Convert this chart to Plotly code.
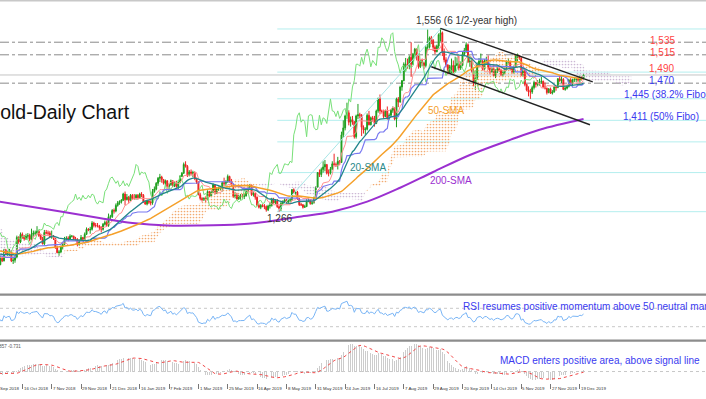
import numpy as np
import pandas as pd
import plotly.graph_objects as go

# ---------------- data (XAU/USD daily) ----------------
# warm-up closes (4 Jun 2018 - 21 Sep 2018), used only to seed indicators
warmup_close = [
    1292, 1297, 1298, 1298, 1298, 1299, 1294, 1299, 1302, 1278,
    1279, 1275, 1270, 1268, 1270, 1266, 1258, 1252, 1248, 1251,
    1242, 1253, 1253, 1257, 1255, 1258, 1255, 1245, 1246, 1241,
    1239, 1227, 1224, 1223, 1231, 1224, 1226, 1231, 1223, 1222,
    1222, 1223, 1217, 1213, 1214, 1208, 1211, 1212, 1212, 1211,
    1193, 1192, 1174, 1178, 1184, 1191, 1198, 1196, 1186, 1206,
    1212, 1210, 1201, 1201, 1201, 1199, 1196, 1199, 1200, 1196,
    1194, 1195, 1205, 1207, 1193, 1198, 1199, 1204, 1207, 1199,
]

# visible bars: 24 Sep 2018 ... 23 Dec 2019
close = [
    1199, 1200, 1194, 1182, 1192, 1188, 1205, 1198, 1202, 1203,
    1188, 1189, 1194, 1225, 1218, 1230, 1226, 1223, 1227, 1228,
    1222, 1230, 1232, 1232, 1235, 1228, 1223, 1215, 1233, 1232,
    1232, 1226, 1227, 1224, 1209, 1201, 1202, 1210, 1214, 1222,
    1224, 1222, 1227, 1227, 1223, 1222, 1214, 1220, 1225, 1222,
    1230, 1238, 1237, 1238, 1248, 1244, 1244, 1243, 1241, 1238,
    1246, 1249, 1244, 1258, 1258, 1268, 1267, 1276, 1280, 1282,
    1284, 1294, 1285,
    1289, 1284, 1292, 1287, 1287, 1292, 1288, 1294, 1292, 1282,
    1278, 1283, 1281, 1280, 1298, 1302, 1311, 1319, 1321, 1317,
    1311, 1315, 1306, 1309, 1315, 1307, 1311, 1306, 1313, 1322,
    1327, 1341, 1338, 1324, 1329, 1327, 1328, 1319, 1313, 1293,
    1287, 1285, 1287, 1286, 1298, 1291, 1297, 1309, 1295, 1302,
    1302, 1306, 1312, 1311, 1313, 1322, 1314, 1309, 1290, 1292,
    1286, 1291, 1291, 1290, 1291, 1298, 1304, 1308, 1293, 1295,
    1289, 1276, 1273, 1276, 1275, 1274, 1269, 1275, 1276, 1286,
    1280, 1283, 1274, 1271, 1279, 1282, 1285, 1281, 1284, 1285,
    1301, 1296, 1297, 1286, 1277, 1277, 1273, 1274, 1283, 1284,
    1279, 1280, 1288, 1305,
    1328, 1325, 1333, 1337, 1341, 1327, 1327, 1334, 1342, 1341,
    1340, 1346, 1344, 1388, 1399, 1418, 1423, 1408, 1412, 1409,
    1385, 1418, 1420, 1419, 1400, 1396, 1397, 1419, 1404, 1415,
    1413, 1406, 1426, 1445, 1426, 1425, 1417, 1426, 1414, 1419,
    1427, 1430, 1413, 1445, 1440, 1464, 1474, 1500, 1500, 1497,
    1511, 1500, 1516, 1524, 1513, 1496, 1506, 1502, 1498, 1527,
    1527, 1542, 1538, 1527, 1520, 1529, 1547, 1550, 1520, 1507,
    1499, 1486, 1496, 1498, 1488, 1498, 1501, 1494, 1498, 1516,
    1522, 1531, 1504, 1505, 1490, 1472, 1478, 1499, 1505, 1505,
    1492, 1505, 1506, 1494, 1488, 1493, 1482, 1490, 1493, 1490,
    1484, 1487, 1492, 1504, 1504, 1493, 1488, 1495, 1513, 1514,
    1510, 1484, 1490, 1468, 1459, 1456, 1456, 1463, 1471, 1468,
    1471, 1472, 1473, 1464, 1462, 1455, 1461, 1454, 1456, 1464,
    1463, 1477, 1474, 1476, 1460, 1462, 1465, 1475, 1469, 1476,
    1476, 1476, 1475, 1479, 1478, 1483,
]
high = [
    1204, 1204, 1204, 1195, 1196, 1195, 1207, 1207, 1205, 1207,
    1205, 1193, 1196, 1228, 1227, 1233, 1233, 1229, 1231, 1232,
    1231, 1239, 1236, 1236, 1243, 1237, 1230, 1226, 1237, 1237,
    1236, 1235, 1236, 1229, 1224, 1212, 1205, 1212, 1216, 1226,
    1227, 1227, 1230, 1229, 1228, 1226, 1224, 1222, 1229, 1226,
    1233, 1241, 1240, 1242, 1251, 1250, 1248, 1248, 1245, 1243,
    1248, 1252, 1252, 1263, 1261, 1270, 1271, 1279, 1283, 1284,
    1286, 1296, 1298,
    1294, 1291, 1294, 1294, 1294, 1294, 1294, 1296, 1297, 1294,
    1284, 1285, 1284, 1284, 1302, 1306, 1313, 1321, 1326, 1323,
    1318, 1317, 1316, 1311, 1317, 1316, 1314, 1315, 1316, 1324,
    1329, 1344, 1346, 1340, 1332, 1333, 1331, 1330, 1320, 1314,
    1296, 1289, 1289, 1290, 1300, 1299, 1299, 1311, 1310, 1305,
    1306, 1307, 1314, 1320, 1316, 1325, 1323, 1318, 1310, 1297,
    1296, 1293, 1294, 1294, 1295, 1300, 1306, 1310, 1309, 1298,
    1296, 1290, 1279, 1278, 1278, 1278, 1276, 1277, 1281, 1288,
    1288, 1286, 1286, 1276, 1282, 1284, 1287, 1286, 1287, 1288,
    1302, 1303, 1299, 1299, 1288, 1280, 1278, 1277, 1286, 1287,
    1286, 1283, 1290, 1306,
    1329, 1333, 1336, 1346, 1348, 1341, 1333, 1337, 1346, 1358,
    1344, 1353, 1348, 1393, 1411, 1420, 1439, 1427, 1417, 1418,
    1402, 1420, 1437, 1423, 1421, 1403, 1400, 1422, 1426, 1417,
    1418, 1418, 1428, 1447, 1452, 1428, 1428, 1428, 1433, 1422,
    1429, 1433, 1432, 1447, 1448, 1466, 1475, 1503, 1510, 1509,
    1514, 1535, 1518, 1526, 1525, 1512, 1507, 1509, 1504, 1530,
    1555, 1544, 1545, 1540, 1530, 1531, 1549, 1557, 1552, 1525,
    1511, 1500, 1499, 1509, 1506, 1512, 1511, 1513, 1504, 1520,
    1526, 1535, 1533, 1513, 1510, 1493, 1483, 1503, 1510, 1517,
    1507, 1508, 1512, 1514, 1500, 1496, 1499, 1492, 1497, 1497,
    1493, 1489, 1495, 1506, 1510, 1506, 1496, 1498, 1515, 1517,
    1514, 1511, 1493, 1494, 1469, 1465, 1461, 1466, 1474, 1472,
    1475, 1477, 1480, 1474, 1471, 1463, 1462, 1463, 1459, 1466,
    1465, 1478, 1482, 1481, 1478, 1465, 1466, 1477, 1478, 1477,
    1480, 1479, 1480, 1482, 1481, 1485,
]
low = [
    1194, 1195, 1191, 1180, 1181, 1186, 1187, 1197, 1196, 1196,
    1186, 1183, 1185, 1192, 1215, 1216, 1223, 1220, 1221, 1223,
    1219, 1221, 1226, 1228, 1230, 1226, 1221, 1214, 1213, 1230,
    1228, 1225, 1223, 1221, 1207, 1200, 1196, 1200, 1206, 1213,
    1220, 1219, 1221, 1225, 1221, 1220, 1211, 1212, 1219, 1219,
    1221, 1229, 1235, 1231, 1236, 1241, 1241, 1241, 1237, 1233,
    1236, 1244, 1242, 1242, 1254, 1256, 1263, 1265, 1274, 1277,
    1279, 1283, 1276,
    1284, 1279, 1283, 1285, 1285, 1285, 1285, 1287, 1289, 1280,
    1277, 1276, 1278, 1276, 1277, 1296, 1300, 1307, 1313, 1312,
    1309, 1308, 1304, 1302, 1307, 1305, 1305, 1304, 1302, 1311,
    1321, 1326, 1336, 1321, 1322, 1324, 1321, 1316, 1310, 1292,
    1284, 1282, 1283, 1281, 1284, 1289, 1289, 1296, 1293, 1294,
    1299, 1300, 1298, 1307, 1307, 1312, 1312, 1307, 1288, 1287,
    1285, 1285, 1285, 1287, 1286, 1290, 1296, 1302, 1291, 1290,
    1285, 1276, 1271, 1270, 1273, 1270, 1266, 1267, 1271, 1274,
    1279, 1278, 1272, 1266, 1267, 1276, 1279, 1279, 1279, 1281,
    1283, 1294, 1293, 1285, 1275, 1275, 1271, 1272, 1274, 1281,
    1277, 1277, 1279, 1288,
    1304, 1321, 1321, 1328, 1330, 1325, 1322, 1325, 1332, 1338,
    1337, 1333, 1340, 1344, 1383, 1395, 1414, 1403, 1401, 1404,
    1382, 1382, 1413, 1414, 1386, 1390, 1388, 1395, 1403, 1403,
    1409, 1401, 1405, 1423, 1421, 1422, 1414, 1416, 1412, 1412,
    1417, 1423, 1411, 1400, 1432, 1439, 1458, 1473, 1489, 1493,
    1492, 1480, 1499, 1509, 1506, 1493, 1494, 1497, 1492, 1495,
    1521, 1525, 1532, 1521, 1516, 1519, 1525, 1536, 1513, 1503,
    1495, 1484, 1485, 1486, 1486, 1492, 1497, 1490, 1491, 1497,
    1513, 1518, 1502, 1496, 1487, 1465, 1459, 1475, 1495, 1501,
    1490, 1490, 1501, 1491, 1484, 1487, 1480, 1478, 1486, 1488,
    1481, 1480, 1484, 1490, 1501, 1490, 1485, 1485, 1494, 1504,
    1507, 1481, 1480, 1465, 1457, 1449, 1445, 1453, 1460, 1463,
    1465, 1466, 1469, 1462, 1460, 1452, 1454, 1453, 1452, 1455,
    1458, 1462, 1472, 1470, 1459, 1458, 1460, 1463, 1466, 1465,
    1472, 1472, 1472, 1471, 1474, 1476,
]

tick_labels = [
    "24 Sep 2018", "16 Oct 2018", "7 Nov 2018", "29 Nov 2018", "21 Dec 2018",
    "16 Jan 2019", "7 Feb 2019", "1 Mar 2019", "25 Mar 2019", "16 Apr 2019",
    "8 May 2019", "31 May 2019", "24 Jun 2019", "16 Jul 2019", "7 Aug 2019",
    "29 Aug 2019", "20 Sep 2019", "14 Oct 2019", "5 Nov 2019", "27 Nov 2019",
    "19 Dec 2019",
]
BARS_PER_TICK = 16

# 200-SMA (bar index, price)
sma200_bar = [3, 31, 58, 76, 95, 113, 135, 149, 167, 185, 204, 222, 240, 260, 282, 298, 322]
sma200_val = [1282, 1269, 1256, 1248, 1244, 1244, 1246, 1250, 1258, 1266, 1282, 1304, 1329, 1356, 1380, 1396, 1413]

# drawing tools
fibo_bars = [155, 244]          # swing low -> swing high
fibo_prices = [1266, 1556]
fibo_ratios = [0.0, 0.236, 0.382, 0.5, 0.618, 0.786, 1.0]
sr_levels = [1535, 1515, 1470]
channel_upper_bar = [244, 327]
channel_upper_val = [1557, 1472]
channel_lower_bar = [239, 325.5]
channel_lower_val = [1496, 1404]
rsi_levels = [70, 30]

# ---------------- indicators ----------------
nw = len(warmup_close)
c_all = np.array(warmup_close + close, dtype=float)
h_all = np.concatenate([np.array(warmup_close, float), np.array(high, float)])
l_all = np.concatenate([np.array(warmup_close, float), np.array(low, float)])
bar_all = np.arange(-nw, len(close))
s = pd.Series(c_all)
hs, ls = pd.Series(h_all), pd.Series(l_all)

sma20 = s.rolling(20).mean().values
sma50 = s.rolling(50).mean().values
tenkan = ((hs.rolling(9).max() + ls.rolling(9).min()) / 2).values
kijun = ((hs.rolling(26).max() + ls.rolling(26).min()) / 2).values
spanA = (tenkan + kijun) / 2
spanB = ((hs.rolling(52).max() + ls.rolling(52).min()) / 2).values
cloud_x = bar_all + 26

d = s.diff()
au = d.clip(lower=0).ewm(alpha=1 / 14, adjust=False).mean()
ad = (-d).clip(lower=0).ewm(alpha=1 / 14, adjust=False).mean()
rsi = (100 - 100 / (1 + au / ad)).values

macd = (s.ewm(span=12, adjust=False).mean() - s.ewm(span=26, adjust=False).mean())
signal = macd.rolling(9).mean().values
macd = macd.values

vis = np.arange(len(close))
o_vis = c_all[nw - 1:-1]
c_vis = np.array(close, float)
h_vis = np.maximum.reduce([np.array(high, float), o_vis, c_vis])
l_vis = np.minimum.reduce([np.array(low, float), o_vis, c_vis])

# ---------------- geometry ----------------
W, H = 706, 399
X_RANGE = [3.817, 388.77]
Y_MAIN = [1138.5, 1602.0]


def pyy(p):
    return 1 - p / H


def pxx(p):
    return p / W


def bar_to_paper(b):
    return (b - X_RANGE[0]) / (X_RANGE[1] - X_RANGE[0])


fig = go.Figure()

# Ichimoku cloud (dotted)
m = cloud_x >= -2
lo = np.fmin(spanA, spanB)
upA = np.where(spanA >= spanB, spanA, lo)
upB = np.where(spanB > spanA, spanB, lo)
for top, col in [(upA, "#f2aa70"), (upB, "#ccb8d4")]:
    fig.add_trace(go.Scatter(x=cloud_x[m], y=lo[m], mode="lines", line=dict(width=0),
                             hoverinfo="skip"))
    fig.add_trace(go.Scatter(x=cloud_x[m], y=top[m], mode="lines", line=dict(width=0),
                             fill="tonexty", fillcolor="rgba(0,0,0,0)",
                             fillpattern=dict(shape=".", fgcolor=col, bgcolor="rgba(255,255,255,0)",
                                              size=3, solidity=0.25, fillmode="replace"),
                             hoverinfo="skip"))

# candles
fig.add_trace(go.Candlestick(
    x=vis, open=o_vis, high=h_vis, low=l_vis, close=c_vis,
    increasing=dict(line=dict(color="#1e9e1e", width=1), fillcolor="#1e9e1e"),
    decreasing=dict(line=dict(color="#ee2222", width=1), fillcolor="#ee2222"),
    whiskerwidth=0, hoverinfo="skip"))

lm = bar_all >= 0
fig.add_trace(go.Scatter(x=bar_all[lm] - 26, y=c_all[lm], mode="lines",
                         line=dict(color="#78e078", width=1)))
fig.add_trace(go.Scatter(x=bar_all[lm], y=tenkan[lm], mode="lines",
                         line=dict(color="#ff9090", width=1)))
fig.add_trace(go.Scatter(x=bar_all[lm], y=kijun[lm], mode="lines",
                         line=dict(color="#7878f0", width=1.2)))
fig.add_trace(go.Scatter(x=sma200_bar, y=sma200_val, mode="lines", line_shape="spline",
                         line=dict(color="#9b30d0", width=2)))
fig.add_trace(go.Scatter(x=bar_all[lm], y=sma50[lm], mode="lines",
                         line=dict(color="#f5a02a", width=1.5)))
fig.add_trace(go.Scatter(x=bar_all[lm], y=sma20[lm], mode="lines",
                         line=dict(color="#23868c", width=1.3)))

# fibo swing line and channel
fig.add_trace(go.Scatter(x=fibo_bars, y=fibo_prices, mode="lines",
                         line=dict(color="#a8e6e6", width=1)))
fig.add_trace(go.Scatter(x=channel_upper_bar, y=channel_upper_val, mode="lines",
                         line=dict(color="#222222", width=1.4)))
fig.add_trace(go.Scatter(x=channel_lower_bar, y=channel_lower_val, mode="lines",
                         line=dict(color="#222222", width=1.4)))

# RSI
fig.add_trace(go.Scatter(x=bar_all[lm], y=rsi[lm], yaxis="y2", mode="lines",
                         line=dict(color="#78b4f5", width=1)))
# MACD
fig.add_trace(go.Bar(x=bar_all[lm], y=macd[lm], yaxis="y3", width=0.4,
                     marker=dict(color="#cccccc", line=dict(width=0))))
fig.add_trace(go.Scatter(x=bar_all[lm], y=signal[lm], yaxis="y3", mode="lines",
                         line=dict(color="#f04848", width=1, dash="dot")))

mv = np.concatenate([macd[lm], signal[lm]])
mmin, mmax = np.nanmin(mv), np.nanmax(mv)
pad = 0.03 * (mmax - mmin)

shapes = []
low_p, high_p = fibo_prices
for r in fibo_ratios:
    lv = high_p - r * (high_p - low_p)
    shapes.append(dict(type="line", xref="x", yref="y", x0=fibo_bars[0], x1=X_RANGE[1],
                       y0=lv, y1=lv, line=dict(color="#b4eeee", width=1), layer="below"))
for lv in sr_levels:
    shapes.append(dict(type="line", xref="x", yref="y", x0=X_RANGE[0], x1=X_RANGE[1],
                       y0=lv, y1=lv, line=dict(color="#8a8a8a", width=1, dash="dashdot"), layer="below"))
shapes.append(dict(type="line", xref="x", yref="y", x0=X_RANGE[0], x1=X_RANGE[1],
                   y0=close[-1], y1=close[-1], line=dict(color="#c4c4c4", width=1), layer="below"))
for lv in rsi_levels:
    shapes.append(dict(type="line", xref="paper", yref="y2", x0=0, x1=1, y0=lv, y1=lv,
                       line=dict(color="#c8c8c8", width=1, dash="dot"), layer="below"))
shapes.append(dict(type="line", xref="paper", yref="y3", x0=0, x1=1, y0=0, y1=0,
                   line=dict(color="#c8c8c8", width=1, dash="dot"), layer="below"))
# panel borders
shapes.append(dict(type="rect", xref="paper", yref="paper", x0=0, x1=1, y0=pyy(1.5), y1=1,
                   fillcolor="#c8c8c8", line=dict(width=0)))
for top in (293.5, 339.5):
    shapes.append(dict(type="rect", xref="paper", yref="paper", x0=0, x1=1,
                       y0=pyy(top + 2.2), y1=pyy(top), fillcolor="#8c8c8c", line=dict(width=0)))

FONT = "Liberation Sans, Arial, sans-serif"
BLUE = "#3a3af0"
RED = "#ff4444"
ann = []


def add_text(text, x, y, color, size=10, xanchor="left"):
    ann.append(dict(text=text, xref="paper", yref="paper", x=x, y=y, xanchor=xanchor,
                    yanchor="middle", showarrow=False, borderpad=0, borderwidth=0,
                    font=dict(family=FONT, size=size, color=color)))


add_text("Gold-Daily Chart", pxx(130), pyy(112), "#111111", size=19.5, xanchor="right")
add_text("1,556 (6 1/2-year high)", pxx(416), pyy(20), "#333333")
add_text("1,535", pxx(650), pyy(40), RED)
add_text("1,515", pxx(650), pyy(52), RED)
add_text("1,490", pxx(649), pyy(69), RED)
add_text("1,470", pxx(649), pyy(80), BLUE)
add_text("1,445 (38.2% Fibo)", pxx(624), pyy(94), BLUE)
add_text("1,411 (50% Fibo)", pxx(623), pyy(117), BLUE)
add_text("50-SMA", pxx(428), pyy(110), "#f5a02a")
add_text("20-SMA", pxx(350), pyy(167), "#2a8a8a")
add_text("200-SMA", pxx(430), pyy(181), "#9b30d0")
add_text("1,266", pxx(267), pyy(218), "#333333")
add_text("RSI resumes positive momentum above 50 neutral mark", pxx(463), pyy(306), BLUE)
add_text("MACD enters positive area, above signal line", pxx(500), pyy(360), BLUE)
add_text("MACD(12,26,9) 0.857 -0.731", pxx(21), pyy(346), "#555555", size=4.5, xanchor="right")
for i, lbl in enumerate(tick_labels):
    add_text(lbl, bar_to_paper(i * BARS_PER_TICK) + 1.2 / W, pyy(388.5), "#333333", size=4.4)

fig.update_layout(
    width=W, height=H, margin=dict(l=0, r=0, t=0, b=0),
    paper_bgcolor="white", plot_bgcolor="white", showlegend=False,
    xaxis=dict(range=X_RANGE, domain=[0, 1], anchor="free", position=pyy(383),
               showgrid=False, zeroline=False, showline=False, showticklabels=False,
               ticks="outside", ticklen=5, tickcolor="#777777", tickwidth=1,
               tickvals=[i * BARS_PER_TICK for i in range(len(tick_labels))],
               rangeslider=dict(visible=False), fixedrange=True),
    yaxis=dict(domain=[pyy(292), 1], range=Y_MAIN, visible=False, fixedrange=True),
    yaxis2=dict(domain=[pyy(340.5), pyy(294.5)], range=[0, 100], visible=False, fixedrange=True),
    yaxis3=dict(domain=[pyy(381), pyy(342.5)], range=[mmin - pad, mmax + pad], visible=False,
                fixedrange=True),
    shapes=shapes, annotations=ann, bargap=0,
)

fig.write_html("out.html", config=dict(displayModeBar=False, staticPlot=True),
               post_script="document.body.style.margin='0';document.body.style.overflow='hidden';")
